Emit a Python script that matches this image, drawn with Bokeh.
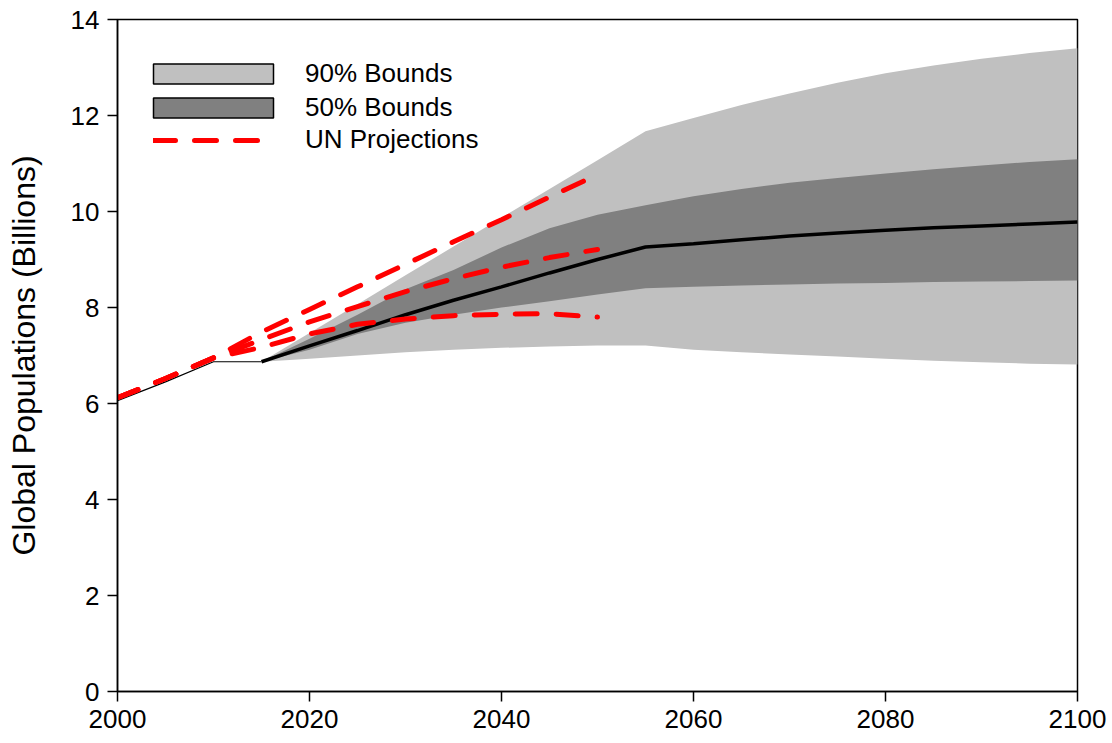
from bokeh.plotting import figure
from bokeh.models import Range1d, Legend, LegendItem, FixedTicker
from bokeh.embed import file_html
from bokeh.resources import INLINE

# ---- data (billions) ----
hist_years = [2000, 2005, 2010, 2015]
hist_pop = [6.06, 6.45, 6.87, 6.87]

proj_years = [2015, 2020, 2025, 2030, 2035, 2040, 2045, 2050, 2055,
              2060, 2065, 2070, 2075, 2080, 2085, 2090, 2095, 2100]
upper90 = [6.87, 7.47, 8.07, 8.67, 9.27, 9.87, 10.47, 11.07, 11.67,
           11.95, 12.22, 12.46, 12.68, 12.88, 13.04, 13.18, 13.30, 13.40]
upper50 = [6.87, 7.35, 7.85, 8.38, 8.78, 9.25, 9.65, 9.93, 10.13,
           10.32, 10.47, 10.60, 10.70, 10.79, 10.88, 10.96, 11.03, 11.09]
median = [6.87, 7.20, 7.52, 7.85, 8.15, 8.43, 8.72, 9.00, 9.26,
          9.33, 9.41, 9.49, 9.55, 9.61, 9.66, 9.70, 9.74, 9.78]
lower50 = [6.87, 7.12, 7.45, 7.68, 7.85, 8.00, 8.13, 8.27, 8.40,
           8.43, 8.46, 8.48, 8.50, 8.51, 8.53, 8.54, 8.55, 8.56]
lower90 = [6.87, 6.93, 7.00, 7.07, 7.12, 7.16, 7.19, 7.21, 7.21,
           7.12, 7.07, 7.02, 6.98, 6.93, 6.89, 6.86, 6.83, 6.81]

un_years = [2000, 2005, 2010, 2015, 2020, 2025, 2030, 2035, 2040, 2045, 2050]
un_high = [6.12, 6.52, 6.95, 7.49, 7.96, 8.43, 8.90, 9.37, 9.83, 10.30, 10.77]
un_medium = [6.12, 6.52, 6.95, 7.33, 7.70, 8.02, 8.33, 8.60, 8.84, 9.04, 9.21]
un_low = [6.12, 6.52, 6.95, 7.17, 7.45, 7.65, 7.76, 7.83, 7.86, 7.87, 7.80]

x_ticks = [2000, 2020, 2040, 2060, 2080, 2100]
y_ticks = [0, 2, 4, 6, 8, 10, 12, 14]

FONT = "Liberation Sans"
LIGHT = "#c0c0c0"
DARK = "#808080"

p = figure(frame_width=960, frame_height=672,
           x_range=Range1d(2000, 2100), y_range=Range1d(0, 14),
           output_backend="svg", toolbar_location=None,
           min_border_left=117, min_border_top=19,
           min_border_right=33, min_border_bottom=45)

p.grid.visible = False
p.outline_line_color = "black"
p.outline_line_width = 1.5
p.background_fill_color = "white"
p.border_fill_color = "white"

# bands
p.varea(x=proj_years, y1=lower90, y2=upper90, fill_color=LIGHT)
p.varea(x=proj_years, y1=lower50, y2=upper50, fill_color=DARK)

# history + median
p.line(hist_years, hist_pop, line_color="black", line_width=1.2)
p.line(proj_years, median, line_color="black", line_width=3.5)

# UN projections
un_renderers = []
for ys in (un_high, un_medium, un_low):
    r = p.line(un_years, ys, line_color="#ff0000", line_width=5,
               line_dash="22 19", line_cap="round")
    un_renderers.append(r)

# legend proxies (placed outside the visible ranges, only drawn in the legend)
q90 = p.quad(left=[1900], right=[1901], top=[-2], bottom=[-3], fill_color=LIGHT,
             line_color="black", line_width=1.5)
q50 = p.quad(left=[1900], right=[1901], top=[-2], bottom=[-3], fill_color=DARK,
             line_color="black", line_width=1.5)


def style_legend(lg):
    lg.spacing = 3
    lg.padding = 0
    lg.margin = 0
    lg.label_height = 20
    lg.label_text_font = FONT
    lg.label_text_font_size = "26px"
    lg.label_text_color = "black"
    lg.background_fill_alpha = 0
    lg.border_line_color = None


legend_bounds = Legend(items=[
    LegendItem(label="90% Bounds", renderers=[q90]),
    LegendItem(label="50% Bounds", renderers=[q50]),
], location=(21, 568))
style_legend(legend_bounds)
legend_bounds.glyph_width = 150
legend_bounds.glyph_height = 25
legend_bounds.label_standoff = 17

legend_un = Legend(items=[
    LegendItem(label="UN Projections", renderers=[un_renderers[0]]),
], location=(36, 536))
style_legend(legend_un)
legend_un.glyph_width = 120
legend_un.glyph_height = 20
legend_un.label_standoff = 32

p.add_layout(legend_bounds, "center")
p.add_layout(legend_un, "center")

# axes
for ax in (p.xaxis, p.yaxis):
    ax.axis_line_color = "black"
    ax.axis_line_width = 1.5
    ax.major_tick_line_color = "black"
    ax.major_tick_line_width = 1.5
    ax.major_tick_in = 0
    ax.major_tick_out = 10
    ax.minor_tick_line_color = None
    ax.major_label_text_font = FONT
    ax.major_label_text_font_size = "26px"
    ax.major_label_text_color = "black"

p.xaxis.ticker = FixedTicker(ticks=x_ticks)
p.yaxis.ticker = FixedTicker(ticks=y_ticks)
p.xaxis.major_label_standoff = 8
p.yaxis.major_label_standoff = 8

p.yaxis.axis_label = "Global Populations (Billions)"
p.yaxis.axis_label_text_font = FONT
p.yaxis.axis_label_text_font_size = "32px"
p.yaxis.axis_label_text_font_style = "normal"
p.yaxis.axis_label_text_color = "black"
p.yaxis.axis_label_standoff = 26

open("out.html", "w").write(file_html(p, INLINE))
